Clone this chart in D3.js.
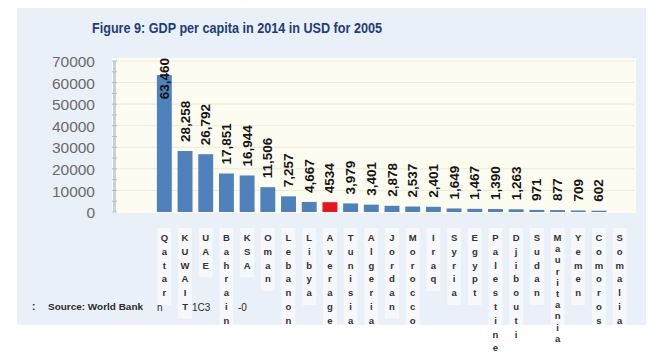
<!DOCTYPE html>
<html>
<head>
<meta charset="utf-8">
<script src="https://cdn.jsdelivr.net/npm/d3@7/dist/d3.min.js"></script>
<style>
  html, body { margin: 0; padding: 0; background: #ffffff; }
  svg { display: block; }
</style>
</head>
<body>
<svg id="chart" width="649" height="356"></svg>
<script>
// GDP per capita, 2014, constant 2005 USD (World Bank)
const countries = ["Qatar", "KUWAIT", "UAE", "Bahrain", "KSA", "Oman", "Lebanon", "Libya",
  "Average", "Tunisia", "Algeria", "Jordan", "Morocco", "Iraq", "Syria", "Egypt",
  "Palestine", "Djibouti", "Sudan", "Mauritania", "Yemen", "Comoros", "Somalia"];
const gdpPerCapita = [63460, 28258, 26792, 17851, 16944, 11506, 7257, 4667,
  4534, 3979, 3401, 2878, 2537, 2401, 1649, 1467,
  1390, 1263, 971, 877, 709, 602, null];
const yTicks = [0, 10000, 20000, 30000, 40000, 50000, 60000, 70000];
const titleText = "Figure 9: GDP per capita in 2014 in USD for 2005";
const sourceText = "Source: World Bank";
const highlight = "Average";

const svg = d3.select("#chart");

// outer panel
svg.append("rect")
  .attr("x", 17).attr("y", 8).attr("width", 629).attr("height", 317)
  .attr("fill", "#eaf0f7");

// plot area
const plot = { left: 112, right: 636, top: 58, bottom: 213 };
svg.append("rect")
  .attr("x", plot.left).attr("y", plot.top)
  .attr("width", plot.right - plot.left).attr("height", plot.bottom - plot.top)
  .attr("fill", "#fdfcf1");

const x = d3.scaleBand().domain(countries).range([154, 630]).paddingInner(0.28).paddingOuter(0.14);
const y = d3.scaleLinear().domain([0, 70000]).range([212, 61]);

// gridlines
svg.append("g")
  .selectAll("line")
  .data(yTicks.filter(t => t > 0))
  .join("line")
  .attr("x1", plot.left + 4).attr("x2", plot.right - 2)
  .attr("y1", d => y(d)).attr("y2", d => y(d))
  .attr("stroke", "#efe9d6").attr("stroke-width", 1);

// y axis
const yAxis = d3.axisLeft(y).tickValues(yTicks).tickFormat(d3.format("d")).tickSize(0).tickPadding(0);
const gy = svg.append("g").attr("transform", "translate(95,0)").call(yAxis);
gy.select(".domain").remove();
gy.selectAll("text")
  .attr("font-family", "Liberation Sans, Arial, sans-serif")
  .attr("font-size", 15.5)
  .attr("fill", "#6a6a6a")
  .attr("dy", "0.36em");

// axis spine with minor tick marks
svg.append("line")
  .attr("x1", 114.5).attr("x2", 114.5).attr("y1", y(70000)).attr("y2", y(0))
  .attr("stroke", "#c7d2df").attr("stroke-width", 3);
svg.append("g")
  .selectAll("line")
  .data(d3.range(0, 70001, 5000))
  .join("line")
  .attr("x1", 112).attr("x2", 117)
  .attr("y1", d => y(d)).attr("y2", d => y(d))
  .attr("stroke", "#aebdcf").attr("stroke-width", 1);

// bars
const rows = countries.map((c, i) => ({ c, v: gdpPerCapita[i] })).filter(d => d.v != null);
svg.append("g")
  .selectAll("rect")
  .data(rows)
  .join("rect")
  .attr("x", d => x(d.c))
  .attr("width", x.bandwidth())
  .attr("y", d => y(d.v))
  .attr("height", d => y(0) - y(d.v))
  .attr("fill", d => d.c === highlight ? "#e8141b" : "#4f81bd");

// rotated value labels above each bar
const fmt = d3.format(",");
const labels = svg.append("g")
  .selectAll("text")
  .data(rows)
  .join("text")
  .text(d => d.c === highlight ? String(d.v) : fmt(d.v))
  .attr("font-family", "Liberation Sans, Arial, sans-serif")
  .attr("font-weight", "bold")
  .attr("font-size", 13.5)
  .attr("fill", "#151515")
  .attr("text-anchor", "start")
  .attr("dominant-baseline", "central");
labels.each(function (d) {
  const len = this.getComputedTextLength();
  let base = y(d.v) - 9;
  if (base - len < plot.top) base = plot.top + len;
  const cx = x(d.c) + x.bandwidth() / 2;
  d3.select(this).attr("transform", `translate(${cx},${base}) rotate(-90)`);
});

// stacked category labels (long names packed a little tighter to fit)
const cat = svg.append("g");
countries.forEach(c => {
  const cx = x(c) + x.bandwidth() / 2;
  const letters = c.split("");
  const step = letters.length > 9 ? 11.2 : 13.8;
  cat.append("rect")
    .attr("x", cx - 7).attr("y", 228)
    .attr("width", 14).attr("height", letters.length * step + 8)
    .attr("fill", "#ffffff").attr("opacity", 0.55);
  const t = cat.append("text")
    .attr("font-family", "Liberation Sans, Arial, sans-serif")
    .attr("font-size", 9.5)
    .attr("font-weight", "bold")
    .attr("fill", "#333333")
    .attr("text-anchor", "middle");
  letters.forEach((ch, i) => {
    t.append("tspan").attr("x", cx).attr("y", 241 + i * step).text(ch);
  });
});

// title
svg.append("text")
  .attr("x", 92).attr("y", 33)
  .attr("font-family", "Liberation Sans, Arial, sans-serif")
  .attr("font-weight", "bold")
  .attr("font-size", 14)
  .attr("fill", "#1f3d78")
  .attr("textLength", 290)
  .attr("lengthAdjust", "spacingAndGlyphs")
  .text(titleText);

// source note
const note = svg.append("g")
  .attr("font-family", "Liberation Sans, Arial, sans-serif")
  .attr("font-weight", "bold")
  .attr("fill", "#2b2b2b");
note.append("text").attr("x", 32).attr("y", 310).attr("font-size", 10).text(":");
note.append("text").attr("x", 48).attr("y", 310).attr("font-size", 8.5)
  .attr("textLength", 95).attr("lengthAdjust", "spacingAndGlyphs").text(sourceText);
note.append("text").attr("x", 157).attr("y", 311).attr("font-size", 10).attr("font-weight", "normal").text("n");
note.append("text").attr("x", 192).attr("y", 311).attr("font-size", 10).attr("font-weight", "normal").text("1C3");
note.append("text").attr("x", 238).attr("y", 311).attr("font-size", 10).attr("font-weight", "normal").text("-0");
</script>
</body>
</html>
